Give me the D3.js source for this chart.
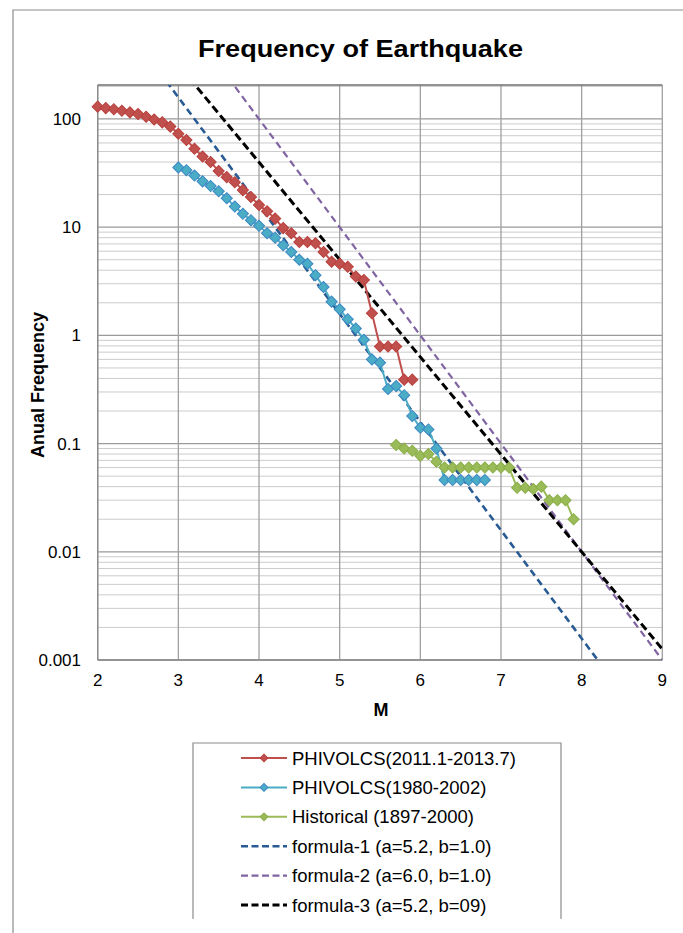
<!DOCTYPE html>
<html>
<head>
<meta charset="utf-8">
<script src="https://cdn.jsdelivr.net/npm/d3@7"></script>
<style>
  body { margin: 0; background: #fff; }
  text { font-family: "Liberation Sans", Arial, sans-serif; fill: #000; }
</style>
</head>
<body>
<div id="chart"></div>
<script>
/** DATA */
const redM = [2.0,2.1,2.2,2.3,2.4,2.5,2.6,2.7,2.8,2.9,3.0,3.1,3.2,3.3,3.4,3.5,3.6,3.7,3.8,3.9,
              4.0,4.1,4.2,4.3,4.4,4.5,4.6,4.7,4.8,4.9,5.0,5.1,5.2,5.3,5.4,5.5,5.6,5.7,5.8,5.9]
const redN = [130,126,123,119,115,111,105,99,93,85,73,64,53,45,40,33,29,26,22,19,
              16,14,12,9.8,8.8,7.3,7.3,7.1,5.9,4.8,4.6,4.3,3.5,3.25,1.6,0.79,0.79,0.79,0.39,0.39]

const blueM = [3.0,3.1,3.2,3.3,3.4,3.5,3.6,3.7,3.8,3.9,4.0,4.1,4.2,4.3,4.4,4.5,4.6,4.7,4.8,4.9,
               5.0,5.1,5.2,5.3,5.4,5.5,5.6,5.7,5.8,5.9,6.0,6.1,6.2,6.3,6.4,6.5,6.6,6.7,6.8]
const blueN = [35.6,33.6,30,26.5,24,21.5,18.5,15.5,13.3,11.6,10.3,8.8,8.0,6.8,5.9,5.0,4.6,3.6,2.8,2.05,
               1.74,1.41,1.16,0.91,0.6,0.56,0.32,0.34,0.28,0.18,0.14,0.135,0.09,0.046,0.046,0.046,0.046,0.046,0.046]

const greenM = [5.7,5.8,5.9,6.0,6.1,6.2,6.3,6.4,6.5,6.6,6.7,6.8,6.9,7.0,7.1,7.2,7.3,7.4,7.5,7.6,7.7,7.8,7.9]
const greenN = [0.097,0.09,0.086,0.077,0.08,0.068,0.06,0.06,0.06,0.06,0.06,0.06,0.06,0.06,0.06,
                0.039,0.039,0.038,0.04,0.03,0.03,0.03,0.02]

// dashed reference lines, values at M = 2 and M = 9
const formulaM = [2, 9]
const formula1N = [1585, 0.000158]
const formula2N = [10000, 0.001]
const formula3N = [2512, 0.00126]

const xTicks = [2, 3, 4, 5, 6, 7, 8, 9]
const yTicks = [100, 10, 1, 0.1, 0.01, 0.001]
const yTickLabels = ["100", "10", "1", "0.1", "0.01", "0.001"]
const legendLabels = ["PHIVOLCS(2011.1-2013.7)", "PHIVOLCS(1980-2002)", "Historical (1897-2000)",
  "formula-1 (a=5.2, b=1.0)", "formula-2 (a=6.0, b=1.0)", "formula-3 (a=5.2, b=09)"]

/** CONSTANTS */
const width = 683, height = 933
const plot = { left: 97.7, right: 662.3, top: 85, bottom: 660 }

const xScale = d3.scaleLinear().domain([2, 9]).range([plot.left, plot.right])
const yScale = d3.scaleLog().domain([0.001, 206]).range([plot.bottom, plot.top])

const series = [
  { m: redM, n: redN, color: "#c0504d", stroke: "#b9403d" },
  { m: blueM, n: blueN, color: "#4bacc6", stroke: "#3b88c4" },
  { m: greenM, n: greenN, color: "#9bbb59", stroke: "#8aae48" }
]
const formulas = [
  { n: formula1N, color: "#285a93", w: 2.6, dash: "7,4.5" },
  { n: formula2N, color: "#8064a2", w: 2.2, dash: "7,4.5" },
  { n: formula3N, color: "#000", w: 3, dash: "8,4" }
]

const svg = d3.select("#chart").append("svg")
  .attr("width", width)
  .attr("height", height)

// outer chart frame (cropped on right / bottom)
svg.append("path")
  .attr("d", `M13,${height} V10 H${width}`)
  .attr("fill", "none").attr("stroke", "#8c8c8c").attr("stroke-width", 1.2)

// minor gridlines
const minor = []
for (let e = -3; e < 3; e++) {
  for (let k = 2; k <= 9; k++) {
    const v = k * Math.pow(10, e)
    if (v < 206) minor.push(v)
  }
}
svg.selectAll("line.minor")
  .data(minor)
  .join("line")
  .attr("class", "minor")
  .attr("x1", plot.left).attr("x2", plot.right)
  .attr("y1", d => yScale(d)).attr("y2", d => yScale(d))
  .attr("stroke", "#cbcbcb").attr("stroke-width", 1)

// major gridlines
svg.selectAll("line.ymajor")
  .data(yTicks)
  .join("line")
  .attr("class", "ymajor")
  .attr("x1", plot.left).attr("x2", plot.right)
  .attr("y1", d => yScale(d)).attr("y2", d => yScale(d))
  .attr("stroke", "#9a9a9a").attr("stroke-width", 1.3)

svg.selectAll("line.xmajor")
  .data(xTicks)
  .join("line")
  .attr("class", "xmajor")
  .attr("x1", d => xScale(d)).attr("x2", d => xScale(d))
  .attr("y1", plot.top).attr("y2", plot.bottom)
  .attr("stroke", "#a0a0a0").attr("stroke-width", 1.3)

// plot frame
svg.append("line")
  .attr("x1", plot.left).attr("x2", plot.right).attr("y1", plot.top).attr("y2", plot.top)
  .attr("stroke", "#6f6f6f").attr("stroke-width", 1.5)
svg.append("line")
  .attr("x1", plot.left).attr("x2", plot.right).attr("y1", plot.bottom).attr("y2", plot.bottom)
  .attr("stroke", "#8a8a8a").attr("stroke-width", 1.3)
svg.append("line")
  .attr("x1", plot.left).attr("x2", plot.left).attr("y1", plot.top).attr("y2", plot.bottom)
  .attr("stroke", "#8a8a8a").attr("stroke-width", 1.3)

// tick labels
svg.selectAll("text.ytick")
  .data(yTicks)
  .join("text")
  .attr("class", "ytick")
  .attr("x", 81)
  .attr("y", d => yScale(d))
  .attr("dy", "0.36em")
  .attr("text-anchor", "end")
  .style("font-size", "17px")
  .text((d, i) => yTickLabels[i])

svg.selectAll("text.xtick")
  .data(xTicks)
  .join("text")
  .attr("class", "xtick")
  .attr("x", d => xScale(d))
  .attr("y", 686)
  .attr("text-anchor", "middle")
  .style("font-size", "17px")
  .text(d => d)

// titles
svg.append("text")
  .attr("x", 360.5).attr("y", 57)
  .attr("text-anchor", "middle")
  .attr("textLength", 325).attr("lengthAdjust", "spacingAndGlyphs")
  .style("font-size", "24px").style("font-weight", "bold")
  .text("Frequency of Earthquake")

svg.append("text")
  .attr("x", 381).attr("y", 716)
  .attr("text-anchor", "middle")
  .style("font-size", "18px").style("font-weight", "bold")
  .text("M")

svg.append("text")
  .attr("transform", "translate(44,385) rotate(-90)")
  .attr("text-anchor", "middle")
  .style("font-size", "18px").style("font-weight", "bold")
  .text("Anual Frequency")

// clip to plot area
svg.append("clipPath").attr("id", "clip")
  .append("rect")
  .attr("x", plot.left).attr("y", plot.top)
  .attr("width", plot.right - plot.left).attr("height", plot.bottom - plot.top)

const g = svg.append("g").attr("clip-path", "url(#clip)")

const line = d3.line()
  .x(d => xScale(d[0]))
  .y(d => yScale(d[1]))

const diamond = d3.symbol(d3.symbolSquare, 62)

// data series
series.forEach(s => {
  const pts = s.m.map((m, i) => [m, s.n[i]])
  svg.append("path")
    .datum(pts)
    .attr("d", line)
    .attr("fill", "none")
    .attr("stroke", s.color)
    .attr("stroke-width", 2)
  svg.append("g")
    .selectAll("path")
    .data(pts)
    .join("path")
    .attr("d", diamond)
    .attr("transform", d => `translate(${xScale(d[0])},${yScale(d[1])}) rotate(45)`)
    .attr("fill", s.color)
    .attr("stroke", s.stroke)
    .attr("stroke-width", 1)
})

// formula lines
formulas.forEach(f => {
  g.append("path")
    .datum(formulaM.map((m, i) => [m, f.n[i]]))
    .attr("d", line)
    .attr("fill", "none")
    .attr("stroke", f.color)
    .attr("stroke-width", f.w)
    .attr("stroke-dasharray", f.dash)
})

// legend
const lg = { left: 193, right: 561, top: 743, bottom: 919 }
svg.append("path")
  .attr("d", `M${lg.left},${lg.bottom} V${lg.top} H${lg.right} V${lg.bottom}`)
  .attr("fill", "none").attr("stroke", "#8c8c8c").attr("stroke-width", 1.2)

const rowY = d3.scalePoint().domain(legendLabels).range([758, 905])
const legendStyle = [
  { color: "#c0504d", stroke: "#b9403d", w: 2 },
  { color: "#4bacc6", stroke: "#3b88c4", w: 2 },
  { color: "#9bbb59", stroke: "#8aae48", w: 2 },
  { color: formulas[0].color, w: formulas[0].w, dash: "7,3.5" },
  { color: formulas[1].color, w: formulas[1].w, dash: "7,3.5" },
  { color: formulas[2].color, w: formulas[2].w, dash: "7,3.5" }
]

legendLabels.forEach((label, i) => {
  const y = rowY(label)
  const st = legendStyle[i]
  svg.append("line")
    .attr("x1", 241).attr("x2", 287).attr("y1", y).attr("y2", y)
    .attr("stroke", st.color).attr("stroke-width", st.w)
    .attr("stroke-dasharray", st.dash || null)
  if (!st.dash) {
    svg.append("path")
      .attr("d", d3.symbol(d3.symbolSquare, 30)())
      .attr("transform", `translate(264,${y}) rotate(45)`)
      .attr("fill", st.color).attr("stroke", st.stroke)
  }
  svg.append("text")
    .attr("x", 292).attr("y", y)
    .attr("dy", "0.36em")
    .style("font-size", "18.5px")
    .text(label)
})
</script>
</body>
</html>
